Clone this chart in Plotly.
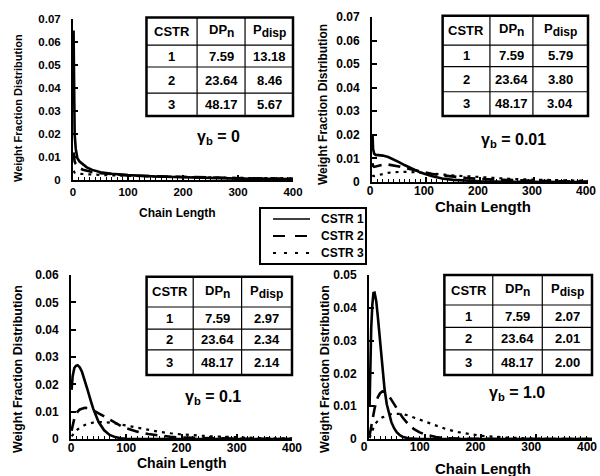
import plotly.graph_objects as go

# ---------------- data ----------------
# gamma_b = 0
g0_x = [1, 2, 3, 5, 8, 12, 18, 25, 35, 50, 70, 100, 150, 200, 250, 300, 350, 400]
g0_c1 = [0.065, 0.030, 0.020, 0.0135, 0.0095, 0.0080, 0.0068, 0.0055, 0.0044, 0.0034, 0.0027, 0.0021,
         0.0015, 0.0011, 0.0008, 0.0006, 0.0005, 0.0004]
g0_c2 = [0.012, 0.009, 0.0080, 0.0070, 0.0060, 0.0052, 0.0045, 0.0040, 0.0035, 0.0030, 0.0025, 0.0020,
         0.0016, 0.0013, 0.0010, 0.0008, 0.0006, 0.0005]
g0_c3 = [0.004, 0.0035, 0.0032, 0.0030, 0.0028, 0.0027, 0.0026, 0.0025, 0.0024, 0.0022, 0.0020, 0.0018,
         0.0015, 0.0013, 0.0011, 0.0009, 0.0008, 0.0007]

# gamma_b = 0.01
g1_x = [1, 2, 4, 7, 12, 20, 30, 40, 50, 60, 75, 90, 110, 130, 150, 175, 200, 250, 300, 350, 400]
g1_c1 = [0.020, 0.014, 0.012, 0.0115, 0.0114, 0.0112, 0.0106, 0.0096, 0.0084, 0.0072, 0.0055, 0.0040,
         0.0025, 0.0015, 0.0009, 0.0005, 0.0003, 0.0001, 0.00003, 0.0, 0.0]
g1_c2 = [0.008, 0.0068, 0.0064, 0.0066, 0.0070, 0.0074, 0.0074, 0.0071, 0.0066, 0.0060, 0.0052, 0.0044,
         0.0035, 0.0028, 0.0022, 0.0017, 0.0013, 0.0008, 0.0005, 0.0003, 0.0002]
g1_c3 = [0.003, 0.0026, 0.0025, 0.0027, 0.0030, 0.0035, 0.0039, 0.0042, 0.0043, 0.0043, 0.0042, 0.0040,
         0.0036, 0.0032, 0.0028, 0.0024, 0.0020, 0.0014, 0.0010, 0.0007, 0.0005]

# gamma_b = 0.1
g2_x = [1, 3, 6, 9, 12, 16, 20, 25, 30, 35, 40, 50, 60, 70, 80, 90, 100, 120, 140, 160, 180, 200,
        250, 300, 350, 400]
g2_c1 = [0.018, 0.023, 0.026, 0.0268, 0.0270, 0.0262, 0.0245, 0.0215, 0.0180, 0.0145, 0.0112, 0.0062,
         0.0032, 0.0015, 0.0007, 0.0003, 0.0001, 0.0, 0.0, 0.0, 0.0, 0.0, 0.0, 0.0, 0.0, 0.0]
g2_c2 = [0.003, 0.005, 0.0075, 0.0090, 0.0100, 0.0108, 0.0112, 0.0114, 0.0113, 0.0110, 0.0105, 0.0094,
         0.0082, 0.0070, 0.0058, 0.0048, 0.0040, 0.0027, 0.0018, 0.0012, 0.0008, 0.0005, 0.0002, 0.0001,
         0.00003, 0.0]
g2_c3 = [0.001, 0.0015, 0.0022, 0.0029, 0.0035, 0.0041, 0.0046, 0.0051, 0.0055, 0.0058, 0.0060, 0.0062,
         0.0062, 0.0060, 0.0057, 0.0053, 0.0049, 0.0040, 0.0032, 0.0026, 0.0021, 0.0017, 0.0010, 0.0006,
         0.0003, 0.0002]

# gamma_b = 1.0
g3_x = [1, 2, 4, 6, 8, 10, 13, 16, 20, 24, 28, 32, 36, 40, 45, 50, 55, 60, 70, 80, 90, 100, 120, 140,
        160, 180, 200, 250, 300, 350, 400]
g3_c1 = [0.010, 0.020, 0.034, 0.041, 0.0445, 0.0446, 0.042, 0.037, 0.029, 0.021, 0.015, 0.0105, 0.0075,
         0.0052, 0.0033, 0.0020, 0.0012, 0.0007, 0.0002, 0.00005, 0.0, 0.0, 0.0, 0.0, 0.0, 0.0, 0.0, 0.0,
         0.0, 0.0, 0.0]
g3_c2 = [0.001, 0.002, 0.004, 0.0060, 0.0078, 0.0093, 0.0113, 0.0128, 0.0140, 0.0145, 0.0144, 0.0138,
         0.0130, 0.0120, 0.0106, 0.0092, 0.0078, 0.0066, 0.0046, 0.0031, 0.0021, 0.0014, 0.0006, 0.0002,
         0.0001, 0.00003, 0.0, 0.0, 0.0, 0.0, 0.0]
g3_c3 = [0.0003, 0.0008, 0.0018, 0.0028, 0.0036, 0.0043, 0.0050, 0.0056, 0.0062, 0.0066, 0.0069, 0.0072,
         0.0074, 0.0076, 0.0077, 0.0077, 0.0077, 0.0076, 0.0072, 0.0066, 0.0059, 0.0052, 0.0040, 0.0029,
         0.0021, 0.0015, 0.0010, 0.0004, 0.0001, 0.00005, 0.00002]

series_names = ["CSTR 1", "CSTR 2", "CSTR 3"]
cstr_ids = ["1", "2", "3"]
dpn_vals = ["7.59", "23.64", "48.17"]
pdisp_g0 = ["13.18", "8.46", "5.67"]
pdisp_g1 = ["5.79", "3.80", "3.04"]
pdisp_g2 = ["2.97", "2.34", "2.14"]
pdisp_g3 = ["2.07", "2.01", "2.00"]
gamma_labels = ["0", "0.01", "0.1", "1.0"]
y_max = [0.07, 0.07, 0.06, 0.05]
x_ticks = [0, 100, 200, 300, 400]

# ---------------- layout constants ----------------
W, H = 600, 476
FONT = "Liberation Sans, Arial, Helvetica, sans-serif"

def px_dom(a, b, total, flip=False):
    if flip:
        return [1 - b / total, 1 - a / total]
    return [a / total, b / total]

panels = [
    dict(x=g0_x, ys=[g0_c1, g0_c2, g0_c3], pd=pdisp_g0, xd=(73, 293), yd=(19, 180),
         tab_x=[0.334, 0.564, 0.782, 1.0], tab_y=[0.398, 0.540, 0.702, 0.838, 1.01],
         gam=(218, 137), tick=11.5, xso=0, xshift=0, xt=(177, 213, 12), yt=(18, 108, 11)),
    dict(x=g1_x, ys=[g1_c1, g1_c2, g1_c3], pd=pdisp_g1, xd=(372, 588), yd=(17, 182),
         tab_x=[0.327, 0.546, 0.745, 1.0], tab_y=[0.40, 0.547, 0.699, 0.83, 1.008],
         gam=(513, 140), tick=12, xso=-3, xshift=-2, xt=(483, 206, 15), yt=(323, 105, 12)),
    dict(x=g2_x, ys=[g2_c1, g2_c2, g2_c3], pd=pdisp_g2, xd=(71, 292), yd=(275, 439),
         tab_x=[0.342, 0.553, 0.772, 1.0], tab_y=[0.39, 0.543, 0.67, 0.805, 0.989],
         gam=(213, 397), tick=12, xso=-3, xshift=0, xt=(181, 463, 14), yt=(18, 369, 12.5)),
    dict(x=g3_x, ys=[g3_c1, g3_c2, g3_c3], pd=pdisp_g3, xd=(369, 592), yd=(275, 439),
         tab_x=[0.338, 0.555, 0.777, 1.0], tab_y=[0.39, 0.543, 0.681, 0.817, 1.0],
         gam=(517, 393), tick=12, xso=-4, xshift=-5, xt=(483, 468, 15), yt=(325, 369, 12.5)),
]

line_styles = [dict(width=2.6, dash="solid"),
               dict(width=2.6, dash="12px,7px"),
               dict(width=2.2, dash="3px,5px")]

fig = go.Figure()
shapes = []
annotations = []
layout_axes = {}

SUBSTYLE = "<span style='font-size:12px'>%s</span>"

for i, p in enumerate(panels):
    n = "" if i == 0 else str(i + 1)
    xa, ya = "x" + n, "y" + n
    for k in range(3):
        fig.add_trace(go.Scatter(
            x=p["x"], y=p["ys"][k], mode="lines", name=series_names[k],
            line=dict(color="black", width=line_styles[k]["width"], dash=line_styles[k]["dash"]),
            xaxis=xa, yaxis=ya, showlegend=False, cliponaxis=True, hoverinfo="skip"))
    ymax = y_max[i]
    yticks = [round(j * 0.01, 2) for j in range(int(round(ymax / 0.01)) + 1)]
    ytext = ["0"] + ["%.2f" % v for v in yticks[1:]]
    tf = dict(family=FONT, size=p["tick"], color="black", weight="bold")
    layout_axes["xaxis" + n] = dict(
        domain=px_dom(*p["xd"], W), anchor=ya, range=[0, 400], tickvals=x_ticks,
        ticktext=[str(v) for v in x_ticks], ticks="inside", ticklen=5, tickwidth=1.5,
        tickcolor="black", showline=True, linewidth=2, linecolor="black", showgrid=False,
        zeroline=False, tickfont=tf, ticklabelstandoff=p["xso"], ticklabelshift=p["xshift"],
        automargin=False, ticklabeloverflow="allow",
        minor=dict(ticks="inside", ticklen=3, dtick=10, tickcolor="black", tickwidth=1))
    layout_axes["yaxis" + n] = dict(
        domain=px_dom(*p["yd"], H, flip=True), anchor=xa, range=[0, ymax], tickvals=yticks,
        ticktext=ytext, ticks="inside", ticklen=5, tickwidth=1.5, tickcolor="black",
        showline=True, linewidth=2, linecolor="black", showgrid=False, zeroline=False,
        tickfont=tf, ticklabelstandoff=8, automargin=False, ticklabeloverflow="allow")

    # table
    tx, ty = p["tab_x"], p["tab_y"]
    xr, yr = xa + " domain", ya + " domain"
    shapes.append(dict(type="rect", xref=xr, yref=yr, x0=tx[0], x1=tx[3], y0=ty[0], y1=ty[4],
                       line=dict(color="black", width=2.5), fillcolor="white", layer="above"))
    for xv in tx[1:3]:
        shapes.append(dict(type="line", xref=xr, yref=yr, x0=xv, x1=xv, y0=ty[0], y1=ty[4],
                           line=dict(color="black", width=1.2), layer="above"))
    for yv in ty[1:4]:
        shapes.append(dict(type="line", xref=xr, yref=yr, x0=tx[0], x1=tx[3], y0=yv, y1=yv,
                           line=dict(color="black", width=1.2), layer="above"))
    rows = [["CSTR", "DP<sub>" + SUBSTYLE % "n" + "</sub>", "P<sub>" + SUBSTYLE % "disp" + "</sub>"]] + \
           [[cstr_ids[r], dpn_vals[r], p["pd"][r]] for r in range(3)]
    for r, row in enumerate(rows):
        yc = (ty[4 - r] + ty[3 - r]) / 2
        for c, txt in enumerate(row):
            xc = (tx[c] + tx[c + 1]) / 2
            annotations.append(dict(xref=xr, yref=yr, x=xc, y=yc, text=txt, showarrow=False,
                                    font=dict(family=FONT, size=13, color="black", weight="bold"),
                                    xanchor="center", yanchor="middle"))
    # gamma label
    gx, gy = p["gam"]
    annotations.append(dict(xref="paper", yref="paper", x=gx / W, y=1 - gy / H,
                            text="γ<sub>b</sub> = " + gamma_labels[i], showarrow=False,
                            font=dict(family=FONT, size=16, color="black", weight="bold"),
                            xanchor="center", yanchor="middle"))
    # axis titles
    cx, cy, fs = p["xt"]
    annotations.append(dict(xref="paper", yref="paper", x=cx / W, y=1 - cy / H,
                            text="Chain Length", showarrow=False,
                            font=dict(family=FONT, size=fs, color="black", weight="bold"),
                            xanchor="center", yanchor="middle"))
    vx, vy, vfs = p["yt"]
    annotations.append(dict(xref="paper", yref="paper", x=vx / W, y=1 - vy / H,
                            text="Weight Fraction Distribution", showarrow=False, textangle=-90,
                            font=dict(family=FONT, size=vfs, color="black", weight="bold"),
                            xanchor="center", yanchor="middle"))

# ---------------- shared legend box (drawn in paper space) ----------------
leg_box = (260, 208, 366, 264)
leg_rows = [219, 236, 253]
leg_line = (273, 310)
leg_text_x = 319
shapes.append(dict(type="rect", xref="paper", yref="paper",
                   x0=leg_box[0] / W, x1=leg_box[2] / W, y0=1 - leg_box[3] / H, y1=1 - leg_box[1] / H,
                   line=dict(color="black", width=2), fillcolor="white", layer="above"))
for k in range(3):
    yy = 1 - leg_rows[k] / H
    shapes.append(dict(type="line", xref="paper", yref="paper",
                       x0=leg_line[0] / W, x1=leg_line[1] / W, y0=yy, y1=yy,
                       line=dict(color="black", width=1.6 if k == 0 else 1.8,
                                 dash=["solid", "12px,10px", "3px,8px"][k]),
                       layer="above"))
    annotations.append(dict(xref="paper", yref="paper", x=leg_text_x / W, y=yy,
                            text=series_names[k], showarrow=False,
                            font=dict(family=FONT, size=12, color="black", weight="bold"),
                            xanchor="left", yanchor="middle"))

fig.update_layout(
    width=W, height=H, margin=dict(l=0, r=0, t=0, b=0, autoexpand=False),
    paper_bgcolor="white", plot_bgcolor="white", showlegend=False, hovermode=False,
    shapes=shapes, annotations=annotations,
    **layout_axes)

fig.write_html("out.html", config={"displayModeBar": False},
               post_script="document.body.style.margin='0';document.body.style.overflow='hidden';")
